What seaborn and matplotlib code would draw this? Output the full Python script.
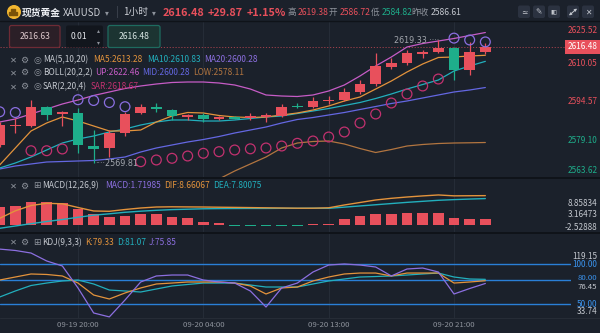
import numpy as np
import pandas as pd
import matplotlib
matplotlib.use("Agg")
import matplotlib.pyplot as plt
import matplotlib.transforms as mtransforms
from matplotlib.patches import FancyBboxPatch, Circle, Rectangle
import seaborn as sns

sns.set_theme(style="dark")
plt.rcParams["font.family"] = ["Noto Sans CJK SC", "DejaVu Sans"]
plt.rcParams["axes.unicode_minus"] = False

# ---------------- data: XAUUSD 1H candles ----------------
hours = ["09-19 15:00", "09-19 16:00", "09-19 17:00", "09-19 18:00", "09-19 19:00",
         "09-19 20:00", "09-19 21:00", "09-19 22:00", "09-19 23:00", "09-20 00:00",
         "09-20 01:00", "09-20 02:00", "09-20 03:00", "09-20 04:00", "09-20 06:00",
         "09-20 07:00", "09-20 08:00", "09-20 09:00", "09-20 10:00", "09-20 11:00",
         "09-20 12:00", "09-20 13:00", "09-20 14:00", "09-20 15:00", "09-20 16:00",
         "09-20 17:00", "09-20 18:00", "09-20 19:00", "09-20 20:00", "09-20 21:00",
         "09-20 22:00", "09-20 23:00"]
tick_hours = ["09-19 20:00", "09-20 04:00", "09-20 13:00", "09-20 21:00"]

opens = [2577.10, 2584.90, 2584.77, 2592.43, 2589.80, 2590.01, 2576.90, 2575.89,
         2581.94, 2590.01, 2592.43, 2591.22, 2588.40, 2589.20, 2587.59, 2588.10,
         2587.99, 2588.40, 2588.80, 2592.83, 2592.43, 2594.85, 2595.25, 2598.48,
         2601.70, 2608.56, 2610.16, 2614.00, 2614.60, 2616.22, 2607.35, 2614.60]
closes = [2585.17, 2585.30, 2592.43, 2589.20, 2590.20, 2577.10, 2575.49, 2581.94,
          2589.61, 2592.43, 2591.62, 2588.99, 2589.20, 2587.39, 2588.40, 2587.90,
          2588.80, 2589.20, 2592.43, 2592.43, 2594.85, 2595.25, 2598.48, 2601.70,
          2608.96, 2610.16, 2614.20, 2614.40, 2616.22, 2607.35, 2614.60, 2616.48]
highs = [2586.38, 2587.99, 2595.25, 2592.83, 2590.81, 2592.02, 2583.15, 2583.15,
         2590.41, 2593.64, 2594.04, 2591.62, 2589.61, 2590.01, 2588.80, 2588.80,
         2590.01, 2590.01, 2593.64, 2594.04, 2596.46, 2596.86, 2600.09, 2603.31,
         2614.20, 2612.18, 2615.41, 2615.41, 2619.33, 2616.62, 2618.64, 2618.20]
lows = [2576.30, 2581.94, 2584.36, 2587.19, 2584.77, 2573.88, 2569.81, 2572.26,
        2580.73, 2589.61, 2590.41, 2587.19, 2587.19, 2586.38, 2587.19, 2587.59,
        2587.19, 2586.38, 2588.40, 2592.02, 2592.02, 2593.64, 2594.85, 2597.67,
        2600.90, 2607.75, 2609.36, 2612.18, 2614.20, 2603.31, 2605.33, 2613.80]

ma5 = [2569.04, 2575.90, 2582.75, 2585.98, 2588.40, 2586.78, 2584.77, 2582.75,
       2582.75, 2583.15, 2586.38, 2588.80, 2590.21, 2590.01, 2589.00, 2588.40,
       2588.19, 2588.40, 2589.20, 2590.01, 2591.22, 2592.83, 2594.85, 2596.46,
       2599.68, 2602.91, 2606.54, 2609.77, 2612.39, 2612.59, 2612.99, 2613.28]
ma10 = [2567.83, 2569.85, 2572.27, 2575.09, 2577.91, 2579.53, 2580.73, 2582.35,
        2583.56, 2585.17, 2586.38, 2587.19, 2587.19, 2586.78, 2586.78, 2587.19,
        2587.79, 2588.40, 2588.80, 2589.81, 2590.82, 2591.82, 2593.03, 2594.24,
        2595.85, 2597.67, 2599.68, 2601.50, 2603.31, 2606.94, 2608.96, 2610.83]
ma20 = [2567.43, 2568.64, 2569.45, 2570.25, 2570.45, 2570.66, 2570.86, 2571.46,
        2572.27, 2574.28, 2575.90, 2577.11, 2578.32, 2579.32, 2580.53, 2581.94,
        2583.15, 2584.36, 2585.98, 2587.39, 2588.19, 2589.20, 2590.21, 2591.42,
        2592.63, 2593.84, 2594.85, 2596.06, 2597.27, 2598.48, 2599.28, 2600.28]
boll_up = [2586.38, 2587.59, 2589.61, 2591.62, 2593.64, 2595.25, 2597.07, 2598.48,
           2599.89, 2600.90, 2601.70, 2602.31, 2602.51, 2602.51, 2602.10, 2601.30,
           2599.68, 2597.27, 2596.86, 2596.66, 2597.27, 2598.88, 2601.30, 2604.93,
           2608.96, 2612.59, 2616.62, 2618.03, 2619.04, 2620.05, 2621.26, 2622.46]
boll_low = [2548.48, 2549.69, 2549.29, 2548.88, 2547.27, 2546.06, 2544.85, 2544.45,
            2544.85, 2547.67, 2550.09, 2552.11, 2554.12, 2558.96, 2563.40, 2566.62,
            2569.45, 2572.27, 2575.90, 2577.91, 2578.52, 2578.72, 2577.51, 2575.69,
            2574.08, 2575.29, 2576.70, 2577.31, 2577.71, 2577.91, 2578.00, 2578.11]
sar = [2590.50, 2590.20, 2574.80, 2574.80, 2575.50, 2595.37, 2595.05, 2594.24,
       2592.55, 2570.37, 2571.06, 2571.74, 2572.67, 2573.76, 2574.41, 2575.09,
       2575.57, 2575.90, 2576.70, 2577.79, 2578.72, 2580.33, 2582.35, 2585.98,
       2589.61, 2594.04, 2597.67, 2600.90, 2603.71, 2620.20, 2619.45, 2618.67]
sar_pos = ["above", "above", "below", "below", "below", "above", "above", "above",
           "above", "below", "below", "below", "below", "below", "below", "below",
           "below", "below", "below", "below", "below", "below", "below", "below",
           "below", "below", "below", "below", "below", "above", "above", "above"]

dif = [2.04, 4.23, 5.78, 6.42, 6.28, 5.20, 4.18, 4.09, 4.61, 5.05, 5.34, 5.40,
       5.37, 5.34, 5.28, 5.23, 5.17, 5.11, 5.05, 4.99, 4.99, 5.11, 5.93, 6.66,
       7.39, 7.88, 8.26, 8.58, 8.85834, 8.60, 8.63, 8.66067]
dea = [-0.88, -0.20, 0.47, 1.11, 1.69, 2.34, 2.95, 3.36, 3.80, 4.12, 4.38, 4.58,
       4.70, 4.82, 4.88, 4.91, 4.93, 4.93, 4.96, 4.96, 4.99, 4.96, 5.30, 5.65,
       6.00, 6.35, 6.70, 7.00, 7.30, 7.50, 7.66, 7.80075]
macd = [5.34, 5.64, 6.75, 6.75, 6.65, 4.76, 3.30, 2.42, 2.72, 3.30, 3.30, 2.42,
        2.13, 0.96, 0.67, -0.30, -0.32, -0.35, -0.32, -0.30, 0.30, 0.45, 1.84,
        2.72, 3.30, 3.30, 3.59, 3.59, 3.59, 2.13, 1.84, 1.71985]

k_vals = [80.2, 84.0, 87.8, 87.2, 85.3, 76.4, 61.3, 56.3, 63.9, 70.2, 75.2, 76.4,
          77.7, 77.7, 77.7, 76.4, 72.7, 62.6, 70.2, 71.4, 79.0, 84.0, 87.8, 89.0,
          89.0, 85.3, 89.0, 89.0, 89.0, 76.4, 77.7, 79.33]
d_vals = [58.8, 66.4, 73.3, 76.4, 79.0, 80.2, 75.2, 67.6, 66.4, 65.1, 68.9, 72.7,
          74.6, 76.4, 76.4, 76.4, 73.9, 71.4, 71.4, 71.4, 75.2, 79.0, 81.5, 84.0,
          84.6, 85.3, 86.5, 87.8, 89.0, 84.0, 81.5, 81.07]
j_vals = [119.15, 117.4, 114.2, 104.2, 97.9, 70.2, 38.7, 33.74, 55.0, 77.7, 85.3,
          86.5, 86.5, 80.2, 77.7, 76.4, 66.4, 46.2, 70.2, 76.4, 90.3, 99.1, 100.4,
          99.1, 96.6, 85.3, 94.1, 95.3, 90.3, 62.6, 69.5, 75.85]
kdj_levels = [100, 80, 50]

# ---------------- styling ----------------
BG = "#1b212b"
RED = "#e8505c"
GREEN = "#1eae8b"
ORANGE = "#e3933c"
CYAN = "#22afbd"
VIOLET = "#8c6fe0"
MID_BLUE = "#6467e2"
PINK = "#c65cc6"
BROWN = "#b27540"
SAR_LOW = "#c2316f"
SAR_HIGH = "#8a6ee0"
KDJ_LINE = "#2a7fd6"
TXT = "#c4c8cf"
DIM = "#8e939c"
GRID = "#252c37"
SEP = "#0f1319"

W, H = 600, 333
STEP = 15.667      # pixels per hourly candle
X0 = 78.0          # pixel column of the first time tick
T0 = hours.index(tick_hours[0])


def rect(x0, y0, x1, y1):
    return [x0 / W, 1 - y1 / H, (x1 - x0) / W, (y1 - y0) / H]


def xlim_for(right):
    return (T0 - X0 / STEP, T0 + (right - X0) / STEP)


df = pd.DataFrame({
    "t": np.arange(len(hours)), "open": opens, "close": closes, "high": highs,
    "low": lows, "ma5": ma5, "ma10": ma10, "ma20": ma20, "up": boll_up,
    "lowb": boll_low, "sar": sar, "side": sar_pos, "dif": dif, "dea": dea,
    "macd": macd, "k": k_vals, "d": d_vals, "j": j_vals,
})

fig = plt.figure(figsize=(6, 3.33), dpi=100, facecolor=BG)
ax_main = fig.add_axes(rect(0, 22, 566, 178))
ax_macd = fig.add_axes(rect(0, 178, 566, 233))
ax_kdj = fig.add_axes(rect(0, 233, 571, 318))
panes = ((ax_main, 566), (ax_macd, 566), (ax_kdj, 571))

tick_pos = [hours.index(h) for h in tick_hours]
for ax, _ in panes:
    for t in tick_pos:
        ax.axvline(t, color=GRID, lw=0.8, zorder=0)

# ---------------- price pane ----------------
ax_main.axhline(closes[-1], color="#a0404b", lw=0.7, ls=(0, (1.2, 1.8)), zorder=1)
for col, c in (("lowb", BROWN), ("up", PINK), ("ma20", MID_BLUE),
               ("ma10", CYAN), ("ma5", ORANGE)):
    sns.lineplot(data=df, x="t", y=col, ax=ax_main, color=c, linewidth=0.9,
                 zorder=2, legend=False)

rising = df["close"] >= df["open"]
ccol = np.where(rising, RED, GREEN)
ax_main.vlines(df["t"], df["low"], df["high"], colors=ccol, lw=0.9, zorder=4)
body = (df["close"] - df["open"]).abs()
tiny = body < 0.45
bottom = np.where(tiny, (df["open"] + df["close"]) / 2 - 0.225,
                  np.minimum(df["open"], df["close"]))
height = np.where(tiny, 0.45, body)
ax_main.bar(df["t"], height, bottom=bottom, width=0.68, color=ccol, lw=0, zorder=5)

for side, c in (("above", SAR_HIGH), ("below", SAR_LOW)):
    sub = df[df["side"] == side]
    sns.scatterplot(data=sub, x="t", y="sar", ax=ax_main, s=50, marker="o",
                    color=c, facecolor="none", edgecolor=c, linewidth=0.9,
                    zorder=6, legend=False)

hi = df["high"].idxmax()
lo = df["low"].idxmin()
ax_main.annotate(f"{df['high'][hi]:.2f} ····", xy=(df["t"][hi], df["high"][hi]),
                 xytext=(1, 0), textcoords="offset pixels", ha="right",
                 va="center", color="#a3a7ae", fontsize=5.8, zorder=7,
                 family=["DejaVu Sans"])
ax_main.annotate(f"····{df['low'][lo]:.2f}", xy=(df["t"][lo], df["low"][lo]),
                 xytext=(1, 0), textcoords="offset pixels", ha="left",
                 va="center", color="#a3a7ae", fontsize=5.8, zorder=7,
                 family=["DejaVu Sans"])

# ---------------- MACD pane ----------------
mcol = np.where(df["macd"] >= 0, RED, GREEN)
ax_macd.bar(df["t"], df["macd"], width=0.68, color=mcol, lw=0, zorder=3)
sns.lineplot(data=df, x="t", y="dea", ax=ax_macd, color=CYAN, linewidth=1.0, zorder=4)
sns.lineplot(data=df, x="t", y="dif", ax=ax_macd, color=ORANGE, linewidth=1.0, zorder=4)

# ---------------- KDJ pane ----------------
for lvl in kdj_levels:
    ax_kdj.axhline(lvl, color=KDJ_LINE, lw=1.0, zorder=1)
sns.lineplot(data=df, x="t", y="d", ax=ax_kdj, color=CYAN, linewidth=0.9, zorder=3)
sns.lineplot(data=df, x="t", y="k", ax=ax_kdj, color=ORANGE, linewidth=0.9, zorder=3)
sns.lineplot(data=df, x="t", y="j", ax=ax_kdj, color=VIOLET, linewidth=0.9, zorder=3)
for t, lab in zip(tick_pos, tick_hours):
    ax_kdj.text(t, -0.085, lab, transform=ax_kdj.get_xaxis_transform(),
                ha="center", va="center", color=DIM, fontsize=5.6)

for ax, right in panes:
    ax.set_xlim(*xlim_for(right))
    ax.axis("off")
ax_main.set_ylim(2563.80, 2626.70)
ax_macd.set_ylim(-2.248, 13.81)
ax_kdj.set_ylim(32.37, 139.42)


# ---------------- right-hand scale labels ----------------
def scale_label(ax, right, value, text, color, dy=0.0, box=None, size=5.9):
    tr = mtransforms.offset_copy(ax.get_yaxis_transform(), fig=fig, x=0, y=-dy,
                                 units="dots")
    ax.text(597.5 / right, value, text, transform=tr, ha="right", va="center",
            color=color, fontsize=size, bbox=box, clip_on=False, zorder=9)


price_ticks = [2625.52, 2610.05, 2594.57, 2579.10, 2563.62]
price_shift = [5.8, 0, 0, 0, -8.4]
for v, dy in zip(price_ticks, price_shift):
    scale_label(ax_main, 566, v, f"{v:.2f}", RED if v > 2586.61 else GREEN, dy)
scale_label(ax_main, 566, closes[-1], f"{closes[-1]:.2f}", "white", -0.5,
            dict(boxstyle="square,pad=0.28", fc=RED, ec="none"))

macd_ticks = [8.85834, 3.16473, -2.52888]
macd_shift = [8.3, 0.5, -6.7]
for v, dy in zip(macd_ticks, macd_shift):
    scale_label(ax_macd, 566, v, f"{v:.5f}", TXT, dy)

kdj_ticks = [119.15, 100.00, 80.00, 76.45, 50.00, 33.74]
kdj_shift = [7.6, 0, -2.0, 3.6, 0, -5.2]
for v, dy in zip(kdj_ticks, kdj_shift):
    is_level = v in kdj_levels
    scale_label(ax_kdj, 571, v, f"{v:.2f}", "#3a93ee" if is_level else TXT, dy,
                size=5.6 if v in (80.00, 76.45) else 5.9)

# ---------------- overlay: header, order boxes, legends ----------------
ov = fig.add_axes([0, 0, 1, 1], zorder=10)
ov.set_xlim(0, W)
ov.set_ylim(H, 0)
ov.axis("off")


def put(x, y, s, color=TXT, size=6.0, ha="left", weight="normal", family=None):
    kw = {"family": family} if family else {}
    ov.text(x, y, s, color=color, fontsize=size, ha=ha, va="center",
            fontweight=weight, **kw)


for y, c, lw in ((21, SEP, 1.0), (178, SEP, 1.4), (233, SEP, 1.4), (318, "#262c36", 0.8)):
    ov.plot([0, W], [y, y], color=c, lw=lw)

# title row
ov.add_patch(Circle((14, 12), 6.3, color="#f2b630"))
for bx, by in ((11.0, 13.6), (15.0, 13.6), (13.0, 10.2)):
    ov.add_patch(Rectangle((bx - 1.6, by - 1.2), 3.2, 2.3, color="#7a5208"))
put(22, 12.5, "现货黄金", "#eceef2", 7.0, weight="bold")
put(63, 12.5, "XAUUSD", "#c9ccd3", 7.0)
put(105, 12.5, "▾", DIM, 5.5, family=["DejaVu Sans"])
put(116, 12.0, "|", "#4a505b", 7.0)
put(123, 12.5, "1小时", "#c9ccd3", 7.0)
put(152, 12.5, "▾", DIM, 5.5, family=["DejaVu Sans"])
put(163, 12.5, "2616.48", RED, 7.8, weight="bold")
put(208, 12.5, "+29.87", RED, 7.8, weight="bold")
put(247, 12.5, "+1.15%", RED, 7.8, weight="bold")
put(288, 12.5, "高", DIM, 6.2)
put(298, 12.5, "2619.38", RED, 6.2)
put(329, 12.5, "开", DIM, 6.2)
put(339.5, 12.5, "2586.72", RED, 6.2)
put(371, 12.5, "低", DIM, 6.2)
put(381.5, 12.5, "2584.82", GREEN, 6.2)
put(411, 12.5, "昨收", DIM, 6.2)
put(431, 12.5, "2586.61", TXT, 6.2)

# toolbar buttons
for cx in (524, 539, 554, 573, 588):
    ov.add_patch(FancyBboxPatch((cx - 6, 5.5), 12, 12.5,
                                boxstyle="round,pad=0,rounding_size=2",
                                fc="#2b3240", ec="none"))
ICON = "#c3c7ce"
put(524, 12, "≃", ICON, 5.5, ha="center", family=["DejaVu Sans"])
put(539, 12, "✎", ICON, 5.5, ha="center", family=["DejaVu Sans"])
put(554, 12, "▮▯", ICON, 4.5, ha="center", family=["DejaVu Sans"])
ov.annotate("", xy=(577, 8.5), xytext=(569, 15.5),
            arrowprops=dict(arrowstyle="<|-|>", color=ICON, lw=0.7,
                            mutation_scale=3.5, shrinkA=0, shrinkB=0))
put(588, 12, "✕", ICON, 5.5, ha="center", family=["DejaVu Sans"])

# order boxes
ov.add_patch(FancyBboxPatch((9.5, 25.5), 50.5, 22, boxstyle="round,pad=0,rounding_size=2",
                            fc="#2b1f27", ec="#6e2b35", lw=0.9))
put(34.7, 36.8, "2616.63", "#dcc7cb", 6.2, ha="center")
ov.add_patch(FancyBboxPatch((66, 25.5), 37, 22, boxstyle="round,pad=0,rounding_size=2",
                            fc="#12161d", ec="none"))
put(79, 36.8, "0.01", "#e6e8ec", 6.2, ha="center")
put(98.5, 31, "▴", DIM, 4.2, ha="center", family=["DejaVu Sans"])
put(98.5, 42.5, "▾", DIM, 4.2, ha="center", family=["DejaVu Sans"])
ov.add_patch(FancyBboxPatch((108, 25.5), 52, 22, boxstyle="round,pad=0,rounding_size=2",
                            fc="#1c3432", ec="#1e6b5f", lw=0.9))
put(134, 36.8, "2616.48", "#d6e4e2", 6.2, ha="center")


def legend_row(y, icon, items):
    put(13, y, "✕", DIM, 6.0, ha="center", family=["DejaVu Sans"])
    put(24.5, y, "⚙", DIM, 6.5, ha="center", family=["DejaVu Sans"])
    put(37, y, icon, DIM, 6.5, ha="center", family=["DejaVu Sans"])
    for x, s, c in items:
        put(x, y, s, c, 6.0)


legend_row(60, "◎", [(43, "MA(5,10,20)", TXT), (93, f"MA5:{ma5[-1]:.2f}", ORANGE),
                     (147, f"MA10:{ma10[-1]:.2f}", CYAN), (204, f"MA20:{ma20[-1]:.2f}", VIOLET)])
legend_row(72.7, "◎", [(43, "BOLL(20,2,2)", TXT), (95, f"UP:{boll_up[-1]:.2f}", PINK),
                       (142, f"MID:{ma20[-1]:.2f}", MID_BLUE), (193, f"LOW:{boll_low[-1]:.2f}", BROWN)])
legend_row(86.7, "◎", [(43, "SAR(2,20,4)", TXT), (91, f"SAR:{sar[-1]:.2f}", SAR_LOW)])
legend_row(186, "⊞", [(42, "MACD(12,26,9)", TXT), (105, f"MACD:{macd[-1]:.5f}", VIOLET),
                      (164, f"DIF:{dif[-1]:.5f}", ORANGE), (213, f"DEA:{dea[-1]:.5f}", CYAN)])
legend_row(242.3, "⊞", [(42, "KDJ(9,3,3)", TXT), (85, f"K:{k_vals[-1]:.2f}", ORANGE),
                        (117, f"D:{d_vals[-1]:.2f}", CYAN), (149, f"J:{j_vals[-1]:.2f}", VIOLET)])

fig.savefig("out.png", dpi=100, facecolor=BG)
